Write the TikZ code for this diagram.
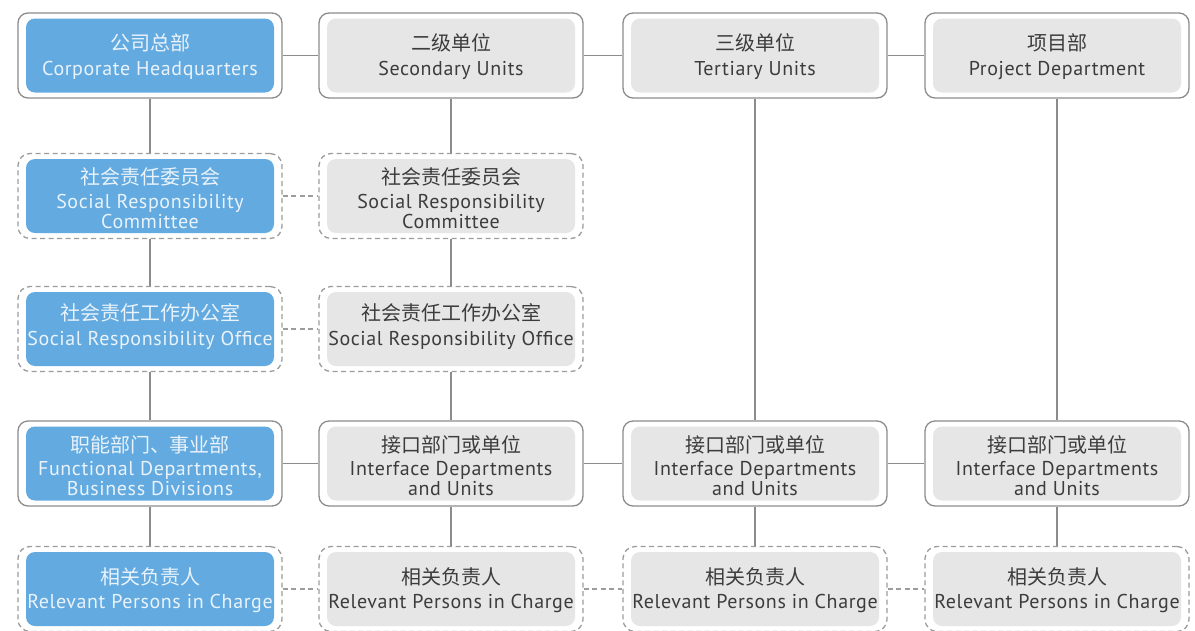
\documentclass[tikz,border=0pt]{standalone}
\usepackage{fontspec}
\setmainfont{PT Sans}[LetterSpace=3]
\newfontfamily\cjk{Noto Sans CJK SC}
\usetikzlibrary{calc}
\definecolor{frameline}{HTML}{8C8C8C}
\definecolor{dashline}{HTML}{9C9C9C}
\definecolor{hqblue}{HTML}{62AADF}
\definecolor{panelgray}{HTML}{E6E6E6}
\definecolor{inkgray}{HTML}{3C3C3C}
\definecolor{inkwhite}{HTML}{EAF3FB}

\begin{document}
\begin{tikzpicture}[x=1pt,y=-1pt,
  frame/.style={draw=frameline,line width=1.3pt,rounded corners=10pt,fill=white,
    minimum width=264pt,minimum height=85pt,inner sep=0pt},
  dashframe/.style={frame,draw=dashline,rounded corners=12pt,dash pattern=on 5pt off 3.5pt},
  panel/.style={rounded corners=9pt,minimum width=248pt,minimum height=74pt,inner sep=0pt},
  bluepanel/.style={panel,fill=hqblue},
  graypanel/.style={panel,fill=panelgray},
  link/.style={draw=frameline,line width=1.3pt},
  dashlink/.style={draw=dashline,line width=1.3pt,dash pattern=on 5pt off 3.5pt},
  cn/.style={font=\cjk\fontsize{20}{20}\selectfont,inner sep=0pt},
  en/.style={font=\fontsize{20}{20}\selectfont,inner sep=0pt,anchor=base},
  onblue/.style={text=inkwhite},
  ongray/.style={text=inkgray},
]
\useasboundingbox (0,0) rectangle (1195,630);

% ---- frames (outer outlines) ----
% row 1: head offices
\node[frame] (hq)  at (150,55.5) {};
\node[frame] (sec) at (451,55.5) {};
\node[frame] (ter) at (755,55.5) {};
\node[frame] (prj) at (1057,55.5) {};
% row 2: committees
\node[dashframe] (hqcom)  at (150,196) {};
\node[dashframe] (seccom) at (451,196) {};
% row 3: offices
\node[dashframe] (hqoff)  at (150,329) {};
\node[dashframe] (secoff) at (451,329) {};
% row 4: departments
\node[frame] (hqdep)  at (150,463.5) {};
\node[frame] (secdep) at (451,463.5) {};
\node[frame] (terdep) at (755,463.5) {};
\node[frame] (prjdep) at (1057,463.5) {};
% row 5: persons in charge
\node[dashframe] (hqper)  at (150,589) {};
\node[dashframe] (secper) at (451,589) {};
\node[dashframe] (terper) at (755,589) {};
\node[dashframe] (prjper) at (1057,589) {};

% ---- connectors ----
\draw[link] (hq) -- (sec);
\draw[link] (sec) -- (ter);
\draw[link] (ter) -- (prj);
\draw[link] (hqdep) -- (secdep);
\draw[link] (secdep) -- (terdep);
\draw[link] (terdep) -- (prjdep);
\draw[dashlink] (hqcom) -- (seccom);
\draw[dashlink] (hqoff) -- (secoff);
\draw[dashlink] (hqper) -- (secper);
\draw[dashlink] (secper) -- (terper);
\draw[dashlink] (terper) -- (prjper);
\draw[link] (hq) -- (hqcom);
\draw[link] (hqcom) -- (hqoff);
\draw[link] (hqoff) -- (hqdep);
\draw[link] (hqdep) -- (hqper);
\draw[link] (sec) -- (seccom);
\draw[link] (seccom) -- (secoff);
\draw[link] (secoff) -- (secdep);
\draw[link] (secdep) -- (secper);
\draw[link] (ter) -- (terdep);
\draw[link] (terdep) -- (terper);
\draw[link] (prj) -- (prjdep);
\draw[link] (prjdep) -- (prjper);

% ---- inner panels ----
\node[bluepanel] (hq-p)     at (150,55.5) {};
\node[graypanel] (sec-p)    at (451,55.5) {};
\node[graypanel] (ter-p)    at (755,55.5) {};
\node[graypanel] (prj-p)    at (1057,55.5) {};
\node[bluepanel] (hqcom-p)  at (150,196) {};
\node[graypanel] (seccom-p) at (451,196) {};
\node[bluepanel] (hqoff-p)  at (150,329) {};
\node[graypanel] (secoff-p) at (451,329) {};
\node[bluepanel] (hqdep-p)  at (150,463.5) {};
\node[graypanel] (secdep-p) at (451,463.5) {};
\node[graypanel] (terdep-p) at (755,463.5) {};
\node[graypanel] (prjdep-p) at (1057,463.5) {};
\node[bluepanel] (hqper-p)  at (150,589) {};
\node[graypanel] (secper-p) at (451,589) {};
\node[graypanel] (terper-p) at (755,589) {};
\node[graypanel] (prjper-p) at (1057,589) {};

% ---- labels ----
% row 1
\node[cn,onblue] (hq-cn) at (150,42.5) {公司总部};
\node[en,onblue] (hq-en) at (150,75.5) {Corporate Headquarters};
\node[cn,ongray] (sec-cn) at (451,42.5) {二级单位};
\node[en,ongray] (sec-en) at (451,75.5) {Secondary Units};
\node[cn,ongray] (ter-cn) at (755,42.5) {三级单位};
\node[en,ongray] (ter-en) at (755,75.5) {Tertiary Units};
\node[cn,ongray] (prj-cn) at (1057,42.5) {项目部};
\node[en,ongray] (prj-en) at (1057,75.5) {Project Department};
% row 2
\node[cn,onblue] (hqcom-cn) at (150,176.5) {社会责任委员会};
\node[en,onblue] (hqcom-en1) at (150,208.5) {Social Responsibility};
\node[en,onblue] (hqcom-en2) at (150,228.5) {Committee};
\node[cn,ongray] (seccom-cn) at (451,176.5) {社会责任委员会};
\node[en,ongray] (seccom-en1) at (451,208.5) {Social Responsibility};
\node[en,ongray] (seccom-en2) at (451,228.5) {Committee};
% row 3
\node[cn,onblue] (hqoff-cn) at (150,313) {社会责任工作办公室};
\node[en,onblue] (hqoff-en) at (150,345) {Social Responsibility Office};
\node[cn,ongray] (secoff-cn) at (451,313) {社会责任工作办公室};
\node[en,ongray] (secoff-en) at (451,345) {Social Responsibility Office};
% row 4
\node[cn,onblue] (hqdep-cn) at (150,444.5) {职能部门、事业部};
\node[en,onblue] (hqdep-en1) at (150,475.5) {Functional Departments,};
\node[en,onblue] (hqdep-en2) at (150,495) {Business Divisions};
\node[cn,ongray] (secdep-cn) at (451,444.5) {接口部门或单位};
\node[en,ongray] (secdep-en1) at (451,475.5) {Interface Departments};
\node[en,ongray] (secdep-en2) at (451,495) {and Units};
\node[cn,ongray] (terdep-cn) at (755,444.5) {接口部门或单位};
\node[en,ongray] (terdep-en1) at (755,475.5) {Interface Departments};
\node[en,ongray] (terdep-en2) at (755,495) {and Units};
\node[cn,ongray] (prjdep-cn) at (1057,444.5) {接口部门或单位};
\node[en,ongray] (prjdep-en1) at (1057,475.5) {Interface Departments};
\node[en,ongray] (prjdep-en2) at (1057,495) {and Units};
% row 5
\node[cn,onblue] (hqper-cn) at (150,577) {相关负责人};
\node[en,onblue] (hqper-en) at (150,608) {Relevant Persons in Charge};
\node[cn,ongray] (secper-cn) at (451,577) {相关负责人};
\node[en,ongray] (secper-en) at (451,608) {Relevant Persons in Charge};
\node[cn,ongray] (terper-cn) at (755,577) {相关负责人};
\node[en,ongray] (terper-en) at (755,608) {Relevant Persons in Charge};
\node[cn,ongray] (prjper-cn) at (1057,577) {相关负责人};
\node[en,ongray] (prjper-en) at (1057,608) {Relevant Persons in Charge};
\end{tikzpicture}
\end{document}
